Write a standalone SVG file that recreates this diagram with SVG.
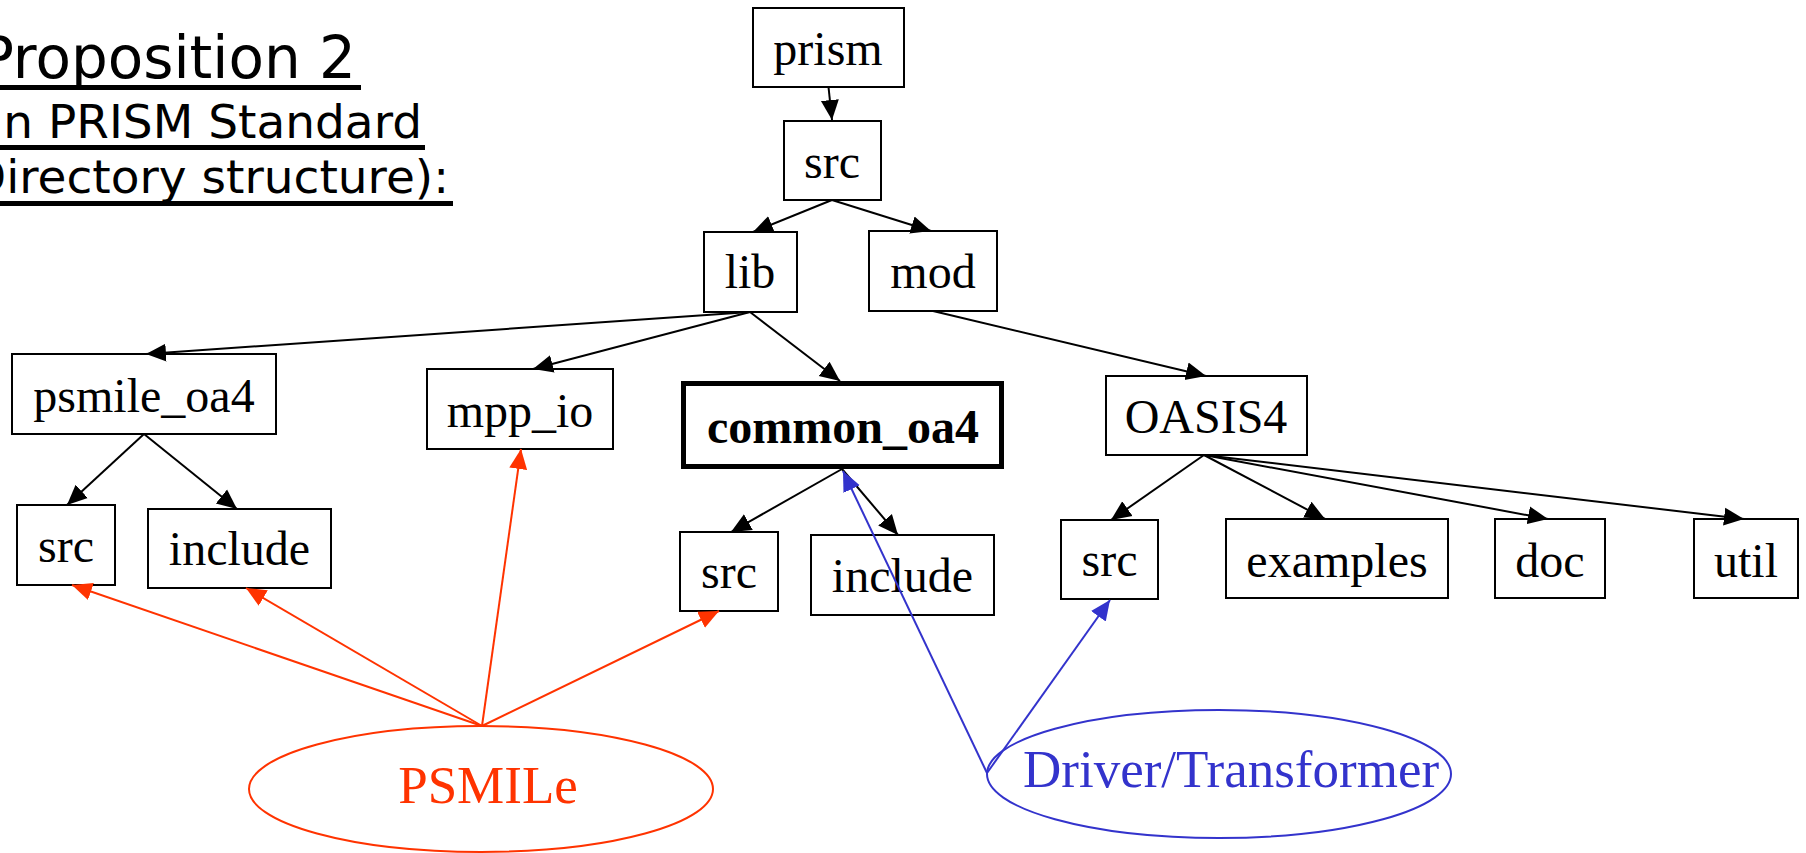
<svg xmlns="http://www.w3.org/2000/svg" width="1806" height="853" viewBox="0 0 1806 853">
<style>
.box rect{fill:#fff;stroke:#000;stroke-width:2}
.box text{font-family:"Liberation Serif","Times New Roman",serif;font-size:48px;fill:#000;text-anchor:middle}
.bold rect{stroke-width:5}
.bold text{font-weight:bold}
.title{font-family:"DejaVu Sans","Liberation Sans",sans-serif;fill:#000;text-anchor:end}
.e{fill:none;stroke:#000;stroke-width:2}
.r{fill:none;stroke:#FF3300;stroke-width:2}
.b{fill:none;stroke:#3333CC;stroke-width:2}
.ell text{font-family:"Liberation Serif","Times New Roman",serif;font-size:53px}
</style>
<defs>
<marker id="ak" markerUnits="userSpaceOnUse" markerWidth="22" markerHeight="20" viewBox="0 -10 22 20" refX="20" refY="0" orient="auto"><path d="M0,-9L20,0L0,9z" fill="#000"/></marker>
<marker id="ar" markerUnits="userSpaceOnUse" markerWidth="22" markerHeight="20" viewBox="0 -10 22 20" refX="20" refY="0" orient="auto"><path d="M0,-9L20,0L0,9z" fill="#FF3300"/></marker>
<marker id="ab" markerUnits="userSpaceOnUse" markerWidth="22" markerHeight="20" viewBox="0 -10 22 20" refX="20" refY="0" orient="auto"><path d="M0,-9L20,0L0,9z" fill="#3333CC"/></marker>
</defs>
<rect width="1806" height="853" fill="#fff"/>
<g id="title">
<text class="title" x="356" y="78" font-size="58">Proposition 2</text>
<rect x="-5" y="85" width="366" height="5" fill="#000"/>
<text class="title" x="422" y="138" font-size="47">(in PRISM Standard</text>
<rect x="-5" y="145" width="430" height="5" fill="#000"/>
<text class="title" x="449" y="193" font-size="47">Directory structure):</text>
<rect x="-5" y="201" width="458" height="5" fill="#000"/>
</g>
<g id="prism" class="box"><rect x="753" y="8" width="151" height="79"/><text x="828" y="65">prism</text></g>
<g id="src" class="box"><rect x="784" y="121" width="97" height="79"/><text x="832" y="178">src</text></g>
<g id="lib" class="box"><rect x="704" y="232" width="93" height="80"/><text x="750" y="288">lib</text></g>
<g id="mod" class="box"><rect x="869" y="231" width="128" height="80"/><text x="933" y="288">mod</text></g>
<g id="psmile_oa4" class="box"><rect x="12" y="354" width="264" height="80"/><text x="144" y="412">psmile_oa4</text></g>
<g id="mpp_io" class="box"><rect x="427" y="369" width="186" height="80"/><text x="520" y="427">mpp_io</text></g>
<g id="common_oa4" class="box bold"><rect x="683.5" y="383.5" width="318" height="83"/><text x="843" y="443">common_oa4</text></g>
<g id="OASIS4" class="box"><rect x="1106" y="376" width="201" height="79"/><text x="1206" y="433">OASIS4</text></g>
<g id="psmile_src" class="box"><rect x="17" y="505" width="98" height="80"/><text x="66" y="562">src</text></g>
<g id="psmile_include" class="box"><rect x="148" y="509" width="183" height="79"/><text x="239.5" y="565">include</text></g>
<g id="common_src" class="box"><rect x="680" y="532" width="98" height="79"/><text x="729" y="588">src</text></g>
<g id="common_include" class="box"><rect x="811" y="535" width="183" height="80"/><text x="902.5" y="592">include</text></g>
<g id="oasis_src" class="box"><rect x="1061" y="520" width="97" height="79"/><text x="1109.5" y="576">src</text></g>
<g id="examples" class="box"><rect x="1226" y="519" width="222" height="79"/><text x="1337" y="577">examples</text></g>
<g id="doc" class="box"><rect x="1495" y="519" width="110" height="79"/><text x="1550" y="577">doc</text></g>
<g id="util" class="box"><rect x="1694" y="519" width="104" height="79"/><text x="1746" y="577">util</text></g>
<g id="PSMILe" class="ell"><ellipse class="r" cx="481" cy="789" rx="232" ry="63"/><text x="488" y="803" fill="#FF3300" text-anchor="middle">PSMILe</text></g>
<g id="Driver" class="ell"><ellipse class="b" cx="1219" cy="774" rx="232" ry="64"/><text x="1023" y="787" fill="#3333CC">Driver/Transformer</text></g>
<g id="connectors">
<line class="e" x1="828.5" y1="87" x2="832" y2="120" marker-end="url(#ak)"/>
<line class="e" x1="832" y1="200" x2="753" y2="232" marker-end="url(#ak)"/>
<line class="e" x1="832" y1="200" x2="931" y2="231" marker-end="url(#ak)"/>
<line class="e" x1="750" y1="312" x2="146" y2="354" marker-end="url(#ak)"/>
<line class="e" x1="750" y1="312" x2="533" y2="369" marker-end="url(#ak)"/>
<line class="e" x1="750" y1="312" x2="840" y2="381" marker-end="url(#ak)"/>
<line class="e" x1="933" y1="311" x2="1206" y2="376" marker-end="url(#ak)"/>
<line class="e" x1="144" y1="434" x2="67" y2="505" marker-end="url(#ak)"/>
<line class="e" x1="144" y1="434" x2="237" y2="509" marker-end="url(#ak)"/>
<line class="e" x1="842" y1="469" x2="731" y2="532" marker-end="url(#ak)"/>
<line class="e" x1="842" y1="469" x2="898" y2="535" marker-end="url(#ak)"/>
<line class="e" x1="1204" y1="455" x2="1111" y2="520" marker-end="url(#ak)"/>
<line class="e" x1="1204" y1="455" x2="1325" y2="519" marker-end="url(#ak)"/>
<line class="e" x1="1204" y1="455" x2="1548" y2="519" marker-end="url(#ak)"/>
<line class="e" x1="1204" y1="455" x2="1744" y2="519" marker-end="url(#ak)"/>
<line class="r" x1="482" y1="726" x2="72" y2="585" marker-end="url(#ar)"/>
<line class="r" x1="482" y1="726" x2="246" y2="588" marker-end="url(#ar)"/>
<line class="r" x1="482" y1="726" x2="521" y2="449" marker-end="url(#ar)"/>
<line class="r" x1="482" y1="726" x2="719" y2="611" marker-end="url(#ar)"/>
<line class="b" x1="987" y1="773" x2="843" y2="471" marker-end="url(#ab)"/>
<line class="b" x1="987" y1="773" x2="1110" y2="600" marker-end="url(#ab)"/>
</g>
</svg>
